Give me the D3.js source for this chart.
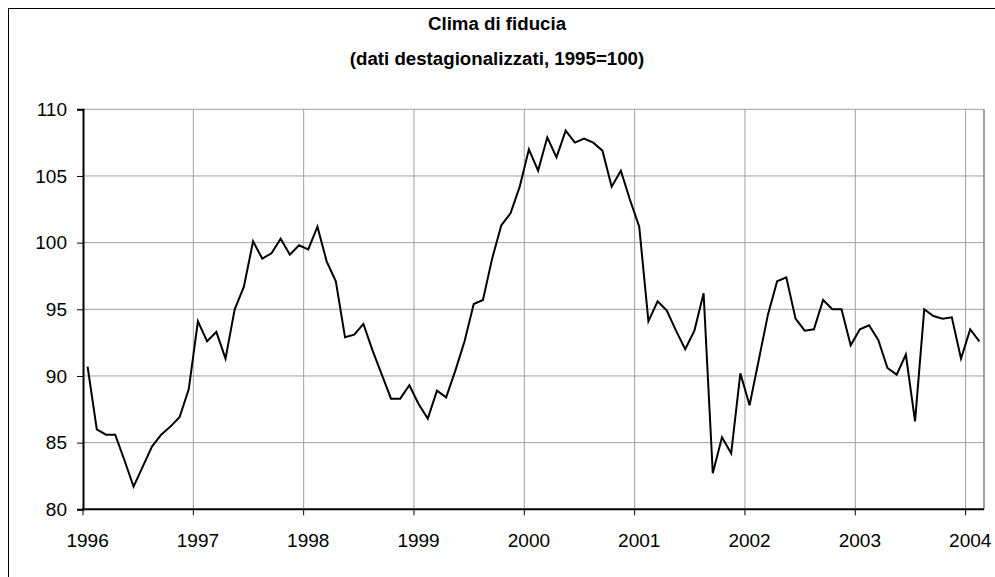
<!DOCTYPE html>
<html>
<head>
<meta charset="utf-8">
<script src="https://cdn.jsdelivr.net/npm/d3@7"></script>
<style>
  body { margin: 0; background: #fff; }
  svg { display: block; font-family: "Liberation Sans", Arial, sans-serif; }
</style>
</head>
<body>
<div id="chart"></div>
<script>
// monthly confidence index, seasonally adjusted (1995=100)
const years = [1996, 1997, 1998, 1999, 2000, 2001, 2002, 2003, 2004];
const v1996 = [90.7, 86.0, 85.6, 85.6, 83.7, 81.7, 83.2, 84.7, 85.6, 86.2, 86.9, 89.0];
const v1997 = [94.1, 92.6, 93.3, 91.3, 95.0, 96.7, 100.1, 98.8, 99.2, 100.3, 99.1, 99.8];
const v1998 = [99.5, 101.2, 98.6, 97.1, 92.9, 93.1, 93.9, 91.9, 90.1, 88.3, 88.3, 89.3];
const v1999 = [87.9, 86.8, 88.9, 88.4, 90.4, 92.6, 95.4, 95.7, 98.8, 101.3, 102.2, 104.2];
const v2000 = [107.0, 105.4, 107.9, 106.4, 108.4, 107.5, 107.8, 107.5, 106.9, 104.2, 105.4, 103.2];
const v2001 = [101.2, 94.1, 95.6, 94.9, 93.4, 92.0, 93.4, 96.2, 82.7, 85.4, 84.2, 90.2];
const v2002 = [87.8, 91.2, 94.6, 97.1, 97.4, 94.3, 93.4, 93.5, 95.7, 95.0, 95.0, 92.3];
const v2003 = [93.5, 93.8, 92.7, 90.6, 90.1, 91.6, 86.6, 95.0, 94.5, 94.3, 94.4, 91.3];
const v2004 = [93.5, 92.6];
const yTicks = [80, 85, 90, 95, 100, 105, 110];

const byYear = [v1996, v1997, v1998, v1999, v2000, v2001, v2002, v2003, v2004];
const data = [];
byYear.forEach((arr, yi) => {
  arr.forEach((v, m) => data.push({key: years[yi] + '-' + (m + 1), year: years[yi], month: m, value: v}));
});

const width = 995, height = 577;
const plotL = 83, plotR = 984, plotT = 109.3, plotB = 509.3;

const svg = d3.select('#chart').append('svg')
  .attr('width', width)
  .attr('height', height);

// outer chart frame
svg.append('rect')
  .attr('x', 8.5).attr('y', 8.5)
  .attr('width', width + 20).attr('height', height + 20)
  .attr('fill', 'none')
  .attr('stroke', '#000')
  .attr('stroke-width', 1);

const x = d3.scaleBand()
  .domain(data.map(d => d.key))
  .range([plotL, plotR])
  .padding(0);

const y = d3.scaleLinear()
  .domain([80, 110])
  .range([plotB, plotT]);

const cx = d => x(d.key) + x.bandwidth() / 2;
const janKeys = years.map(yr => yr + '-1');

// horizontal gridlines
svg.append('g')
  .selectAll('line')
  .data(yTicks.slice(1))
  .enter().append('line')
  .attr('x1', plotL).attr('x2', plotR)
  .attr('y1', d => y(d)).attr('y2', d => y(d))
  .attr('stroke', '#a0a0a0')
  .attr('stroke-width', 1);

// vertical gridlines at year boundaries
svg.append('g')
  .selectAll('line')
  .data(janKeys.slice(1))
  .enter().append('line')
  .attr('x1', d => x(d)).attr('x2', d => x(d))
  .attr('y1', plotT).attr('y2', plotB)
  .attr('stroke', '#a0a0a0')
  .attr('stroke-width', 1);

// plot area right border
svg.append('line')
  .attr('x1', plotR).attr('x2', plotR)
  .attr('y1', plotT).attr('y2', plotB)
  .attr('stroke', '#808080')
  .attr('stroke-width', 1.5);

// y axis
const yAxis = svg.append('g')
  .attr('transform', `translate(${plotL},0)`)
  .call(d3.axisLeft(y).tickValues(yTicks).tickSize(6).tickPadding(10));
yAxis.select('.domain').attr('stroke', '#000').attr('stroke-width', 2);
yAxis.selectAll('.tick line').attr('stroke', '#000');
yAxis.selectAll('text').attr('font-size', 19).attr('fill', '#000')
  .attr('font-family', '"Liberation Sans", Arial, sans-serif');

// x axis: ticks at year boundaries, labels centred on January
svg.append('line')
  .attr('x1', plotL - 1).attr('x2', plotR)
  .attr('y1', plotB).attr('y2', plotB)
  .attr('stroke', '#000')
  .attr('stroke-width', 2);

svg.append('g')
  .selectAll('line')
  .data(janKeys)
  .enter().append('line')
  .attr('x1', d => x(d)).attr('x2', d => x(d))
  .attr('y1', plotB).attr('y2', plotB + 6)
  .attr('stroke', '#000');

svg.append('g')
  .selectAll('text')
  .data(data.filter(d => d.month === 0))
  .enter().append('text')
  .attr('x', cx)
  .attr('y', plotB + 38)
  .attr('text-anchor', 'middle')
  .attr('font-size', 19)
  .text(d => d.year);

// series line
const line = d3.line()
  .x(cx)
  .y(d => y(d.value));

svg.append('path')
  .datum(data)
  .attr('d', line)
  .attr('fill', 'none')
  .attr('stroke', '#000')
  .attr('stroke-width', 2)
  .attr('stroke-linejoin', 'miter');

// titles
svg.append('text')
  .attr('x', 497).attr('y', 30)
  .attr('text-anchor', 'middle')
  .attr('font-size', 18.7).attr('font-weight', 'bold')
  .text('Clima di fiducia');

svg.append('text')
  .attr('x', 497).attr('y', 65)
  .attr('text-anchor', 'middle')
  .attr('font-size', 18.7).attr('font-weight', 'bold')
  .text('(dati destagionalizzati, 1995=100)');
</script>
</body>
</html>
